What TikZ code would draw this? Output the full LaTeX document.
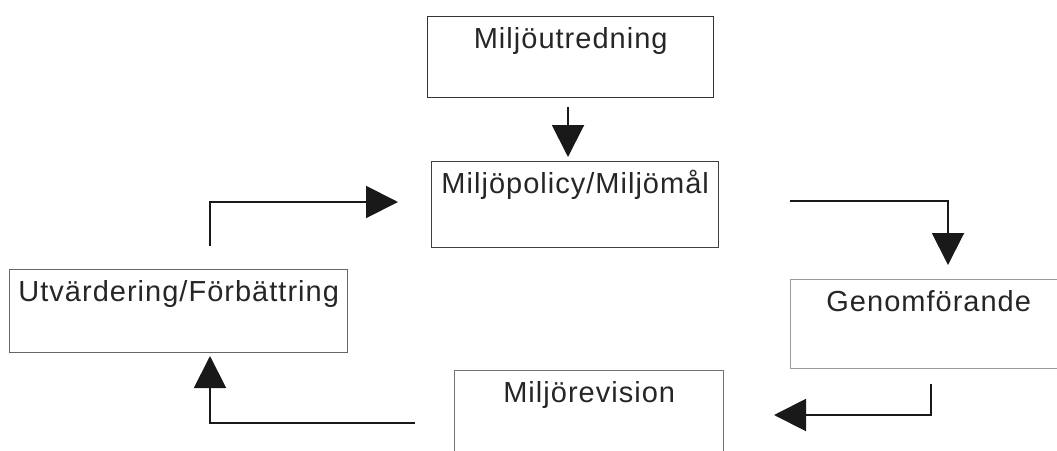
\documentclass[tikz,border=0pt]{standalone}
\usepackage{fontspec}
\setmainfont{Liberation Sans}
\newfontfamily\boxfont[LetterSpace=3.5]{Liberation Sans}
\usetikzlibrary{arrows.meta}
\begin{document}
\begin{tikzpicture}[x=1pt,y=-1pt,
  box/.style={draw, rectangle, anchor=north west, inner sep=0pt, line width=1.4pt},
  txt/.style={font=\boxfont\fontsize{29}{34}\selectfont, anchor=base, yshift=-32pt, text=black!85},
  conn/.style={line width=2pt, black!90, -{Triangle[length=32pt,width=32pt]}}]
\useasboundingbox (0,0) rectangle (1057,450);

\node[box, draw=black!80, minimum width=286pt, minimum height=81pt,
  label={[txt]north:Miljöutredning}] (utr) at (427,16) {};
\node[box, draw=black!75, minimum width=287pt, minimum height=86pt,
  label={[txt]north:Miljöpolicy/Miljömål}] (pol) at (431,161) {};
\node[box, draw=black!60, minimum width=338pt, minimum height=83pt,
  label={[txt]north:Utvärdering/Förbättring}] (utv) at (9,269) {};
\node[box, draw=black!40, minimum width=276pt, minimum height=89pt,
  label={[txt]north:Genomförande}] (gen) at (790,279) {};
\node[box, draw=black!55, minimum width=269pt, minimum height=100pt,
  label={[txt]north:Miljörevision}] (rev) at (454,370) {};

\coordinate (a1) at (568,107);
\coordinate (a2) at (568,157);
\coordinate (b1) at (790,201);
\coordinate (b2) at (948,265);
\coordinate (d1) at (931,384);
\coordinate (d2) at (774,415);
\coordinate (e1) at (415,423);
\coordinate (e2) at (210,356);
\coordinate (c1) at (210,246);
\coordinate (c2) at (398,202);

\draw[conn] (a1) -- (a2);
\draw[conn] (b1) -| (b2);
\draw[conn] (d1) |- (d2);
\draw[conn] (e1) -| (e2);
\draw[conn] (c1) |- (c2);
\end{tikzpicture}
\end{document}
